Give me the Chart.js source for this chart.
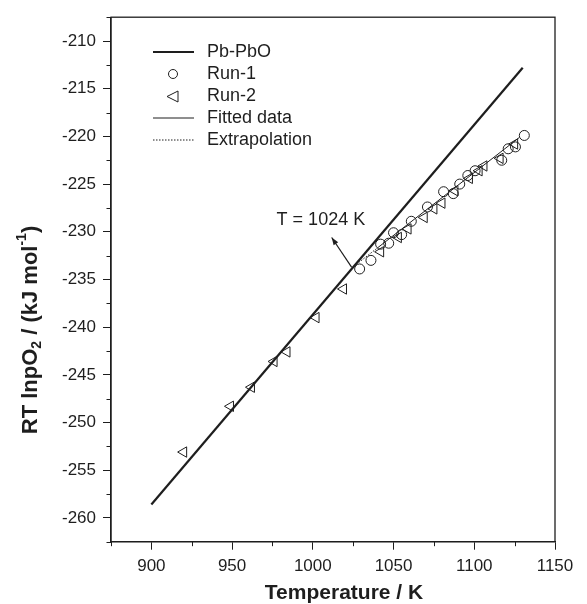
<!DOCTYPE html>
<html>
<head>
<meta charset="utf-8">
<script src="https://cdn.jsdelivr.net/npm/chart.js@4.4.1/dist/chart.umd.min.js"></script>
<style>
html,body{margin:0;padding:0;background:#fff;}
#wrap{width:587px;height:604px;position:relative;}
</style>
</head>
<body>
<div id="wrap"><canvas id="c" width="587" height="604"></canvas></div>
<script>
// ---- data ----
const pbT = [900, 1130];
const pbY = [-258.6, -212.8];
const run1T = [1029, 1036, 1042, 1047, 1050, 1055, 1061, 1071, 1081, 1087, 1091, 1096, 1100.5, 1117, 1121, 1125.5, 1131];
const run1Y = [-233.9, -233.0, -231.3, -231.2, -230.1, -230.3, -228.9, -227.4, -225.8, -226.0, -225.0, -224.1, -223.6, -222.5, -221.3, -221.1, -219.9];
const run2T = [920, 949, 962, 976, 984, 1002, 1019, 1042, 1053, 1059, 1069, 1075, 1080, 1088, 1097, 1103, 1106, 1116, 1125];
const run2Y = [-253.1, -248.3, -246.3, -243.6, -242.6, -239.0, -236.0, -232.1, -230.6, -229.7, -228.5, -227.6, -227.0, -225.7, -224.4, -223.6, -223.1, -222.3, -220.8];
const fitT = [1040, 1128];
const fitY = [-231.7, -220.1];
const extT = [1024, 1040];
const extY = [-233.8, -231.7];
const arrowT = [1024, 1011.7];
const arrowY = [-233.7, -230.6];
const annotText = 'T = 1024 K';
const annotT = 1005;
const annotY = -228.8;
const xTicks = [900, 950, 1000, 1050, 1100, 1150];
const yTicks = [-210, -215, -220, -225, -230, -235, -240, -245, -250, -255, -260];
const legendLabels = ['Pb-PbO', 'Run-1', 'Run-2', 'Fitted data', 'Extrapolation'];

const pts = (xs, ys) => xs.map((x, i) => ({x: x, y: ys[i]}));
const INK = '#1e1e1e';
const FONT = '"Liberation Sans", Arial, sans-serif';

const boxAndExtras = {
  id: 'boxAndExtras',
  afterDraw(chart) {
    const {ctx, chartArea: a, scales: {x, y}} = chart;
    ctx.save();
    // frame
    ctx.strokeStyle = INK; ctx.lineWidth = 1.3;
    ctx.strokeRect(a.left, a.top, a.right - a.left, a.bottom - a.top);
    // minor ticks
    ctx.lineWidth = 1;
    for (let v = 875; v <= 1150; v += 25) {
      if (v % 50 === 0) continue;
      const px = Math.round(x.getPixelForValue(v)) + 0.5;
      ctx.beginPath(); ctx.moveTo(px, a.bottom); ctx.lineTo(px, a.bottom + 4.5); ctx.stroke();
    }
    for (let v = -262.5; v <= -207.5; v += 2.5) {
      if (Math.abs(v % 5) < 1e-6) continue;
      const py = Math.round(y.getPixelForValue(v)) + 0.5;
      ctx.beginPath(); ctx.moveTo(a.left, py); ctx.lineTo(a.left - 4.5, py); ctx.stroke();
    }
    // arrow
    const x0 = x.getPixelForValue(arrowT[0]), y0 = y.getPixelForValue(arrowY[0]);
    const x1 = x.getPixelForValue(arrowT[1]), y1 = y.getPixelForValue(arrowY[1]);
    ctx.strokeStyle = INK; ctx.lineWidth = 1.2;
    ctx.beginPath(); ctx.moveTo(x0, y0); ctx.lineTo(x1, y1); ctx.stroke();
    const ang = Math.atan2(y1 - y0, x1 - x0);
    ctx.fillStyle = INK;
    ctx.beginPath();
    ctx.moveTo(x1, y1);
    ctx.lineTo(x1 - 8 * Math.cos(ang - 0.35), y1 - 8 * Math.sin(ang - 0.35));
    ctx.lineTo(x1 - 8 * Math.cos(ang + 0.35), y1 - 8 * Math.sin(ang + 0.35));
    ctx.closePath(); ctx.fill();
    // annotation
    ctx.font = '18px ' + FONT;
    ctx.textAlign = 'center'; ctx.textBaseline = 'middle';
    ctx.fillText(annotText, x.getPixelForValue(annotT), y.getPixelForValue(annotY));
    // legend
    const lx0 = 153, lx1 = 194, tx = 207;
    const rows = [52, 74, 96.5, 118, 140];
    ctx.textAlign = 'left'; ctx.font = '18px ' + FONT;
    rows.forEach((ry, i) => {
      ctx.fillStyle = INK;
      ctx.fillText(legendLabels[i], tx, ry);
      ctx.strokeStyle = INK;
      if (i === 0) { ctx.lineWidth = 2.2; ctx.setLineDash([]); ctx.beginPath(); ctx.moveTo(lx0, ry); ctx.lineTo(lx1, ry); ctx.stroke(); }
      if (i === 1) { ctx.lineWidth = 1; ctx.beginPath(); ctx.arc(173, ry, 4.5, 0, Math.PI * 2); ctx.stroke(); }
      if (i === 2) { ctx.lineWidth = 1; ctx.beginPath(); ctx.moveTo(167, ry); ctx.lineTo(178, ry - 5.5); ctx.lineTo(178, ry + 5.5); ctx.closePath(); ctx.stroke(); }
      if (i === 3) { ctx.lineWidth = 1; ctx.beginPath(); ctx.moveTo(lx0, ry); ctx.lineTo(lx1, ry); ctx.stroke(); }
      if (i === 4) { ctx.lineWidth = 1; ctx.setLineDash([1.5, 1.5]); ctx.beginPath(); ctx.moveTo(lx0, ry); ctx.lineTo(lx1, ry); ctx.stroke(); ctx.setLineDash([]); }
    });
    // axis titles
    ctx.fillStyle = INK;
    ctx.font = 'bold 21px ' + FONT;
    ctx.textAlign = 'center'; ctx.textBaseline = 'middle';
    ctx.fillText('Temperature / K', 344, 593);
    // y title with sub/superscript
    ctx.save();
    ctx.translate(31, 330);
    ctx.rotate(-Math.PI / 2);
    const parts = [
      {t: 'RT lnpO', f: 'bold 22px ', dy: 0},
      {t: '2', f: 'bold 14px ', dy: 6},
      {t: ' / (kJ mol', f: 'bold 22px ', dy: 0},
      {t: '-1', f: 'bold 14px ', dy: -9},
      {t: ')', f: 'bold 22px ', dy: 0}
    ];
    let total = 0;
    parts.forEach(p => { ctx.font = p.f + FONT; p.w = ctx.measureText(p.t).width; total += p.w; });
    let cx = -total / 2;
    ctx.textAlign = 'left';
    parts.forEach(p => { ctx.font = p.f + FONT; ctx.fillText(p.t, cx, p.dy); cx += p.w; });
    ctx.restore();
    ctx.restore();
  }
};

new Chart(document.getElementById('c'), {
  type: 'scatter',
  data: {
    datasets: [
      {label: 'Pb-PbO', data: pts(pbT, pbY), showLine: true, borderColor: INK, borderWidth: 2.2, pointRadius: 0},
      {label: 'Fitted data', data: pts(fitT, fitY), showLine: true, borderColor: INK, borderWidth: 1, pointRadius: 0},
      {label: 'Extrapolation', data: pts(extT, extY), showLine: true, borderColor: INK, borderWidth: 1, borderDash: [1.5, 1.5], pointRadius: 0},
      {label: 'Run-1', data: pts(run1T, run1Y), pointStyle: 'circle', pointRadius: 5, borderColor: INK, borderWidth: 1, backgroundColor: 'rgba(0,0,0,0)'},
      {label: 'Run-2', data: pts(run2T, run2Y), pointStyle: 'triangle', pointRotation: -90, pointRadius: 6, borderColor: INK, borderWidth: 1, backgroundColor: 'rgba(0,0,0,0)'}
    ]
  },
  options: {
    responsive: false,
    animation: false,
    layout: {padding: {left: 0, right: 32, top: 10, bottom: 0}},
    plugins: {legend: {display: false}, tooltip: {enabled: false}},
    scales: {
      x: {
        type: 'linear', min: 875, max: 1150,
        afterBuildTicks: s => { s.ticks = xTicks.map(v => ({value: v})); },
        afterFit: s => { s.height = 62.3; },
        grid: {drawOnChartArea: false, drawTicks: true, tickLength: 8, tickColor: INK, tickWidth: 1},
        border: {display: true, color: INK, width: 1.3},
        ticks: {color: INK, font: {family: FONT, size: 17}, padding: 6, maxRotation: 0, callback: v => String(v)}
      },
      y: {
        type: 'linear', min: -262.5, max: -207.5,
        afterBuildTicks: s => { s.ticks = yTicks.map(v => ({value: v})); },
        afterFit: s => { s.width = 111; },
        grid: {drawOnChartArea: false, drawTicks: true, tickLength: 8, tickColor: INK, tickWidth: 1},
        border: {display: true, color: INK, width: 1.3},
        ticks: {color: INK, font: {family: FONT, size: 17}, padding: 7, callback: v => String(v)}
      }
    }
  },
  plugins: [boxAndExtras]
});
</script>
</body>
</html>
